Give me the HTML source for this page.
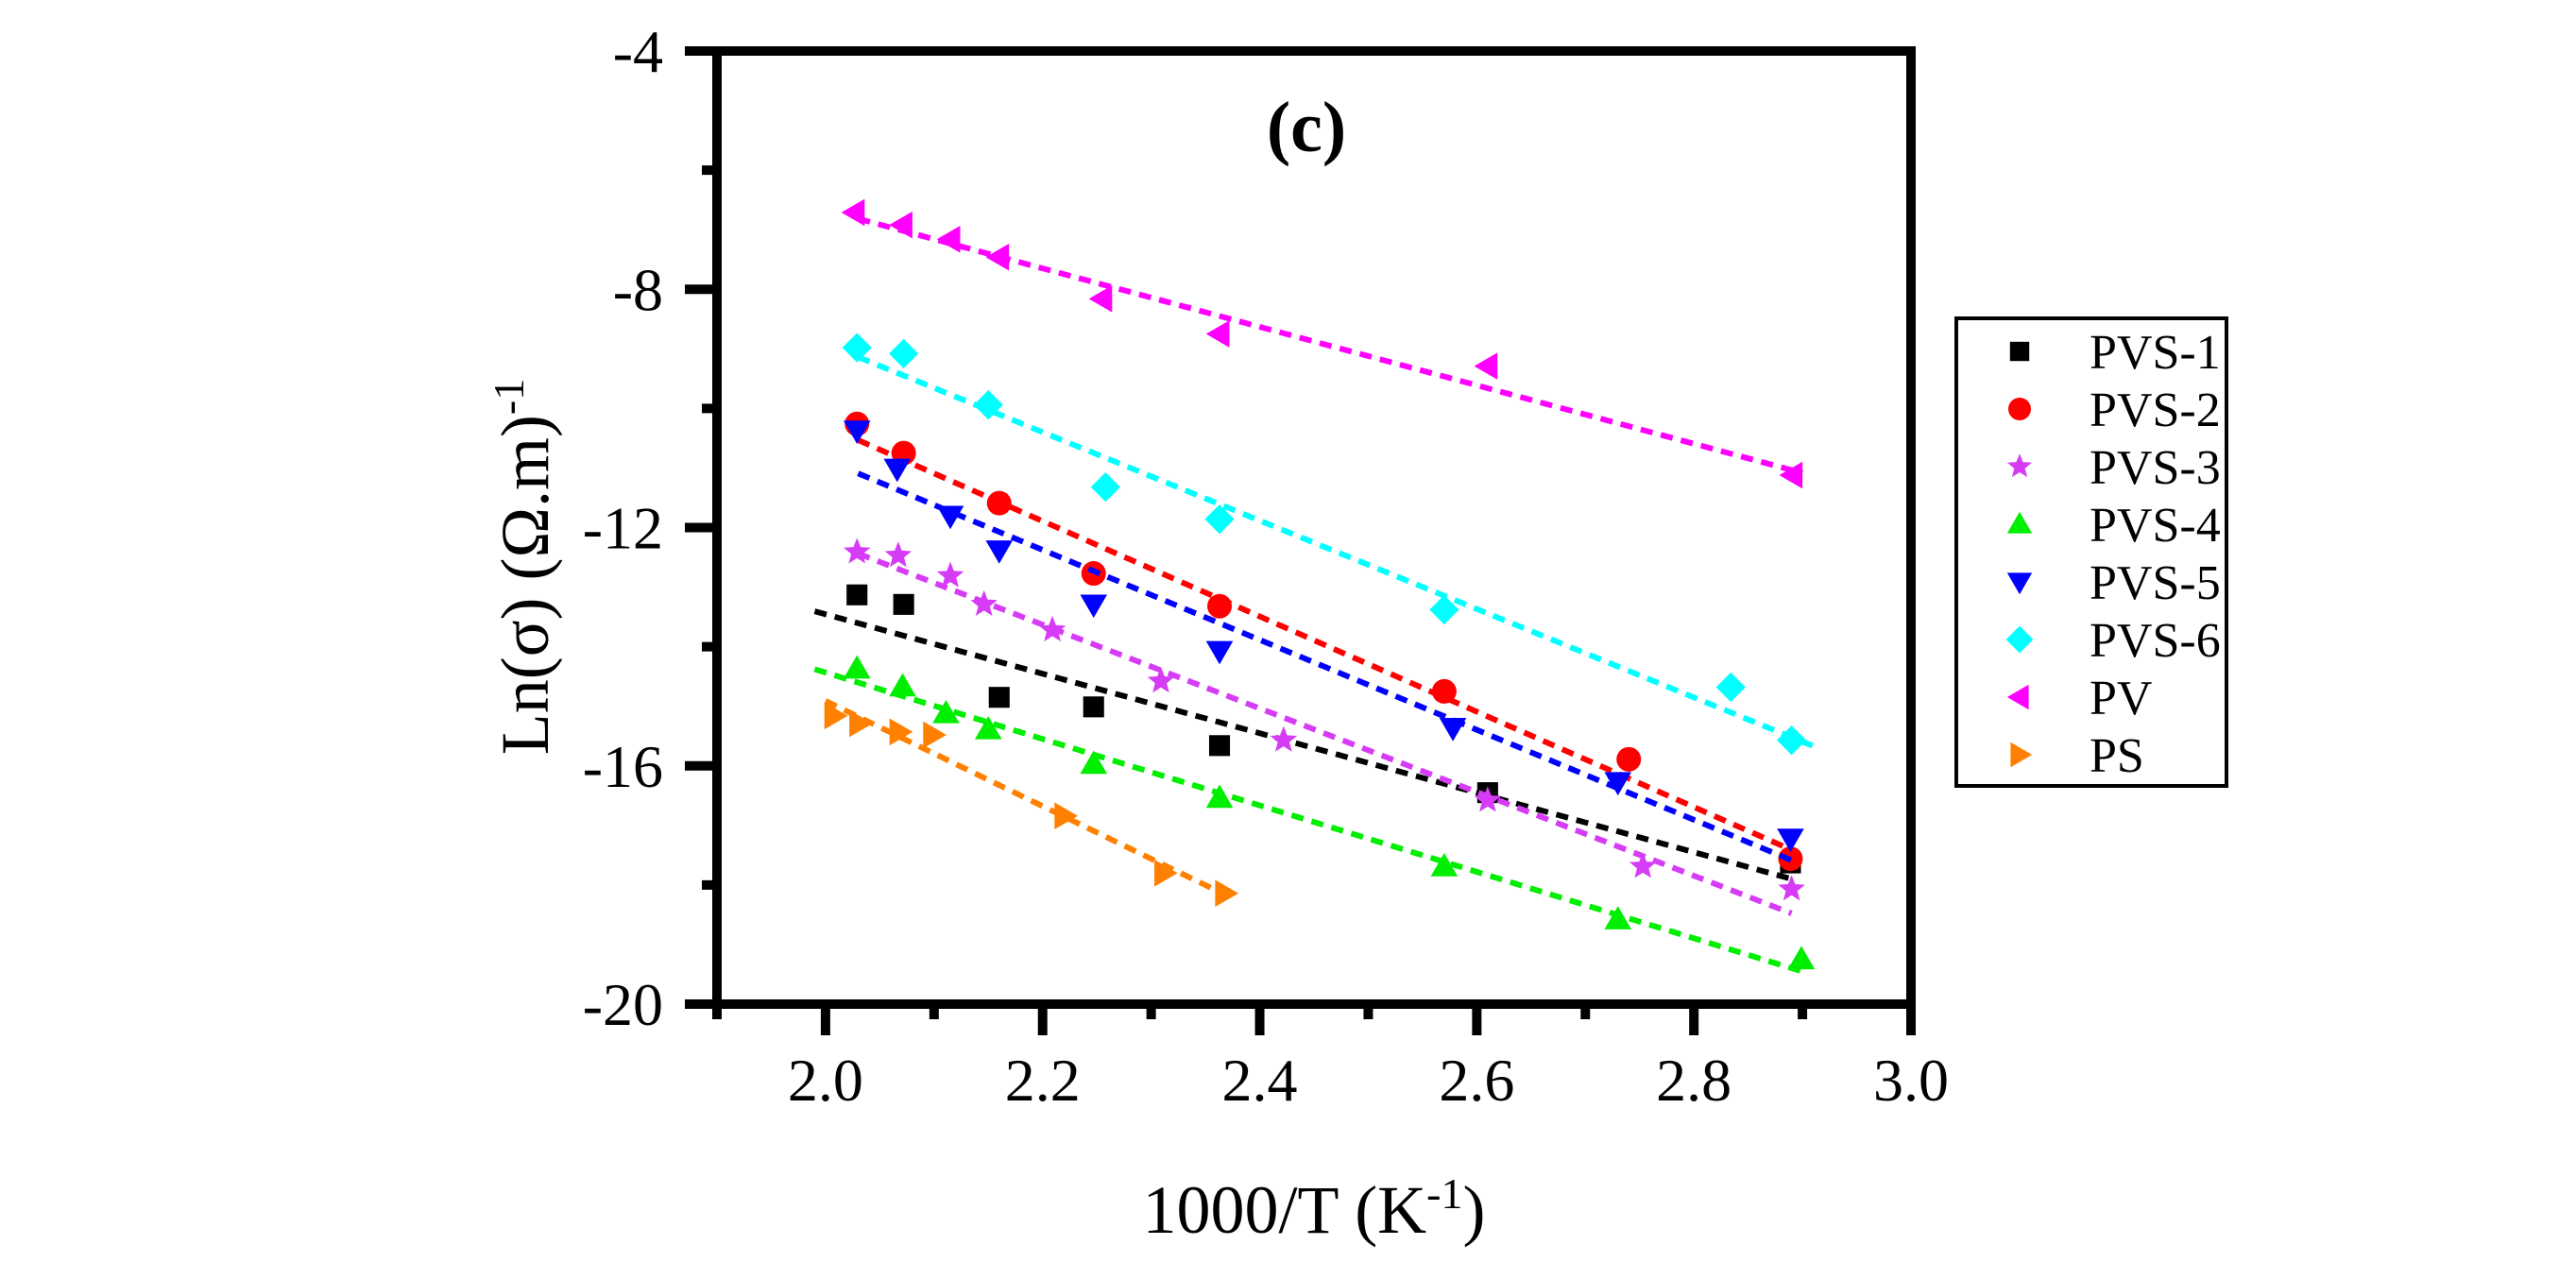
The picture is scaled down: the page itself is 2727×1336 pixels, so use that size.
<!DOCTYPE html>
<html><head><meta charset="utf-8"><style>
html,body{margin:0;padding:0;background:#fff;}
svg{display:block;}
svg text{font-family:"Liberation Serif","Times New Roman",serif;}
</style></head><body>
<svg id="chart" width="2727" height="1336" viewBox="0 0 2727 1336">
<g id="axes"></g>
<g id="series"></g>
<text x="1383" y="160" font-family="Liberation Serif, serif" font-size="76" font-weight="bold" text-anchor="middle">(c)</text>
<text x="1391" y="1305" font-family="Liberation Serif, serif" font-size="72" text-anchor="middle">1000/T (K<tspan dy="-26" font-size="46">-1</tspan><tspan dy="26">)</tspan></text>
<text transform="translate(580,600) rotate(-90)" font-family="Liberation Serif, serif" font-size="72" text-anchor="middle">Ln(σ) (Ω.m)<tspan dy="-26" font-size="46">-1</tspan></text>
<g id="legend"></g>
</svg>
<script>
const xTicks=[2.0,2.2,2.4,2.6,2.8,3.0];
const xTickLabels=["2.0","2.2","2.4","2.6","2.8","3.0"];
const yTicks=[-4,-8,-12,-16,-20];
const yTickLabels=["-4","-8","-12","-16","-20"];
const seriesNames=["PVS-1","PVS-2","PVS-3","PVS-4","PVS-5","PVS-6","PV","PS"];
const seriesColors=["#000000","#ff0000","#d63cf5","#00ee00","#0000ff","#00ffff","#ff00ff","#ff8000"];
const seriesShapes=["square","circle","star","up","down","diamond","left","right"];
const xPVS1=[2.029,2.072,2.160,2.247,2.363,2.610,2.889];
const yPVS1=[-13.13,-13.29,-14.85,-15.01,-15.66,-16.45,-17.63];
const xPVS2=[2.029,2.072,2.160,2.247,2.363,2.570,2.740,2.889];
const yPVS2=[-10.26,-10.75,-11.59,-12.77,-13.32,-14.75,-15.89,-17.56];
const xPVS3=[2.029,2.067,2.115,2.146,2.209,2.309,2.422,2.610,2.753,2.890];
const yPVS3=[-12.41,-12.47,-12.81,-13.29,-13.72,-14.58,-15.57,-16.58,-17.69,-18.07];
const xPVS4=[2.029,2.071,2.111,2.150,2.247,2.363,2.570,2.730,2.899];
const yPVS4=[-14.37,-14.67,-15.12,-15.39,-15.97,-16.54,-17.69,-18.58,-19.25];
const xPVS5=[2.029,2.066,2.115,2.160,2.247,2.363,2.578,2.730,2.889];
const yPVS5=[-10.37,-11.01,-11.80,-12.38,-13.29,-14.07,-15.36,-16.27,-17.22];
const xPVS6=[2.029,2.072,2.150,2.258,2.363,2.570,2.834,2.890];
const yPVS6=[-8.98,-9.08,-9.94,-11.32,-11.86,-13.38,-14.68,-15.57];
const xPV=[2.027,2.071,2.115,2.160,2.255,2.363,2.610,2.891];
const yPV=[-6.71,-6.92,-7.16,-7.46,-8.16,-8.75,-9.29,-11.12];
const xPS=[2.008,2.031,2.068,2.099,2.220,2.312,2.368];
const yPS=[-15.16,-15.29,-15.43,-15.48,-16.84,-17.80,-18.14];
const fitStart=[1.99,2.03,2.03,1.99,2.03,2.03,2.03,2.0];
const fitEnd=[2.89,2.89,2.89,2.9,2.89,2.915,2.9,2.37];

const NS="http://www.w3.org/2000/svg";
const FONT="Liberation Serif, Times New Roman, serif";
const X0=759,X1=2023,Y0=54,Y1=1063,XMIN=1.9,XMAX=3.0,YMIN=-20,YMAX=-4;
function sx(v){return X0+(v-XMIN)/(XMAX-XMIN)*(X1-X0);}
function sy(v){return Y1-(v-YMIN)/(YMAX-YMIN)*(Y1-Y0);}
function mk(tag,attrs,parent){const e=document.createElementNS(NS,tag);for(const k in attrs)e.setAttribute(k,attrs[k]);parent.appendChild(e);return e;}
const axes=document.getElementById('axes');
const fr=mk('rect',{x:X0,y:Y0,width:X1-X0,height:Y1-Y0,fill:'none',stroke:'#000','stroke-width':10},axes);


for(let v=1.9;v<=3.0001;v+=0.1){
  const major=Math.abs(v*10-Math.round(v*5)*2)<0.01;
  const t=mk('line',{x1:sx(v),x2:sx(v),y1:Y1,y2:Y1+(major?33:16),stroke:'#000','stroke-width':10},axes);
  
  
}
xTicks.forEach((v,i)=>{
  const t=mk('text',{x:sx(v),y:1165,'font-size':64,'text-anchor':'middle','font-family':FONT},axes);
  t.textContent=xTickLabels[i];
  
  
});
for(let v=-20;v<=-4;v+=2){
  const major=(v%4===0);
  const t=mk('line',{x1:X0-(major?34:16),x2:X0,y1:sy(v),y2:sy(v),stroke:'#000','stroke-width':10},axes);
  
  
}
yTicks.forEach((v,i)=>{
  const t=mk('text',{x:702,y:sy(v)+22,'font-size':64,'text-anchor':'end','font-family':FONT},axes);
  t.textContent=yTickLabels[i];
  
  
});
function marker(shape,cx,cy,r,color,parent){
  let e;
  if(shape==='square')e=mk('rect',{x:cx-r*0.85,y:cy-r*0.85,width:r*1.7,height:r*1.7,fill:color},parent);
  else if(shape==='circle')e=mk('circle',{cx:cx,cy:cy,r:r,fill:color},parent);
  else{
    let pts;
    if(shape==='up')pts=[[0,-r*1.1],[r*1.1,r*0.8],[-r*1.1,r*0.8]];
    else if(shape==='down')pts=[[0,r*1.1],[r*1.1,-r*0.8],[-r*1.1,-r*0.8]];
    else if(shape==='left')pts=[[-r*1.1,0],[r*0.8,-r*1.1],[r*0.8,r*1.1]];
    else if(shape==='right')pts=[[r*1.1,0],[-r*0.8,-r*1.1],[-r*0.8,r*1.1]];
    else if(shape==='diamond')pts=[[0,-r*1.2],[r*1.2,0],[0,r*1.2],[-r*1.2,0]];
    else{pts=[];for(let k=0;k<10;k++){const a=-Math.PI/2+k*Math.PI/5,rr=k%2?r*0.5:r*1.15;pts.push([rr*Math.cos(a),rr*Math.sin(a)]);}}
    e=mk('polygon',{points:pts.map(p=>(cx+p[0])+','+(cy+p[1])).join(' '),fill:color},parent);
  }
  return e;
}
const xs=[xPVS1,xPVS2,xPVS3,xPVS4,xPVS5,xPVS6,xPV,xPS];
const ys=[yPVS1,yPVS2,yPVS3,yPVS4,yPVS5,yPVS6,yPV,yPS];
const sl=document.getElementById('series');
xs.forEach((xa,i)=>{
  const ya=ys[i],n=xa.length;
  let mx=0,my=0;for(let k=0;k<n;k++){mx+=xa[k];my+=ya[k];}mx/=n;my/=n;
  let sxy=0,sxx=0;for(let k=0;k<n;k++){sxy+=(xa[k]-mx)*(ya[k]-my);sxx+=(xa[k]-mx)**2;}
  const b=sxy/sxx,a=my-b*mx;
  const ln=mk('line',{x1:sx(fitStart[i]),y1:sy(a+b*fitStart[i]),x2:sx(fitEnd[i]),y2:sy(a+b*fitEnd[i]),stroke:seriesColors[i],'stroke-width':6,'stroke-dasharray':'13 9'},sl);
  
  
  for(let k=0;k<n;k++){
    const m=marker(seriesShapes[i],sx(xa[k]),sy(ya[k]),13,seriesColors[i],sl);
    
    
  }
});
const lg=document.getElementById('legend');
const box=mk('rect',{x:2071,y:337,width:286,height:495,fill:'#fff',stroke:'#000','stroke-width':4},lg);


seriesNames.forEach((nm,i)=>{
  const cy=372+i*61;
  const m=marker(seriesShapes[i],2138,cy,12,seriesColors[i],lg);
  
  
  const t=mk('text',{x:2212,y:cy+18,'font-size':52,'font-family':FONT},lg);
  t.textContent=nm;
  
  
});
</script>
</body></html>
